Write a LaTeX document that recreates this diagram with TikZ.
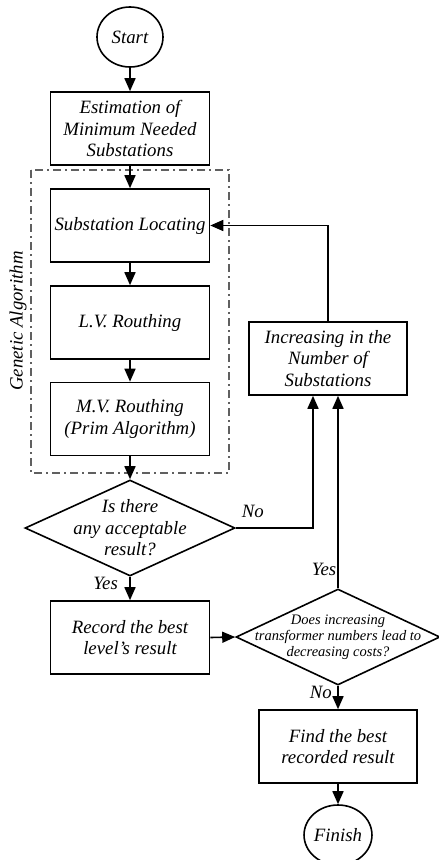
\documentclass[tikz,border=0pt]{standalone}
\usepackage{fontspec}
\setmainfont{Liberation Serif}
\usepackage{tikz}
\usetikzlibrary{arrows.meta,shapes.geometric,positioning}

\tikzset{
	block/.style={draw,rectangle,minimum width=159pt,minimum height=73pt,align=center,inner sep=1pt},
	term/.style={draw,ellipse,minimum width=66pt,minimum height=60pt,inner sep=0pt},
	decision/.style={draw,diamond,inner sep=0pt},
	flow/.style={-{Triangle[length=13pt,width=11pt]}},
	gabox/.style={draw=gray!75!black,line width=1.2pt,dash pattern=on 8pt off 4pt on 2pt off 4pt}
}

\begin{document}
\begin{tikzpicture}[x=1pt,y=-1pt,line width=1.6pt,font=\itshape\fontsize{18.8}{21.5}\selectfont]
	\useasboundingbox (0,0) rectangle (439,860);
	% genetic algorithm frame
	\draw[gabox] (31,170) rectangle (229,473);
	\node[rotate=90] (ga) at (18,321) {Genetic Algorithm};
	% main column
	\node[term] (start) at (130,37) {Start};
	\node[block] (est) at (130,128.5) {Estimation of\\Minimum Needed\\Substations};
	\node[block] (loc) at (130,225.5) {Substation Locating};
	\node[block] (lv) at (130,322.5) {L.V. Routhing};
	\node[block] (mv) at (130,419) {M.V. Routhing\\(Prim Algorithm)};
	\node[decision,minimum width=210pt,minimum height=96pt] (acc) at (130,528) {};
	\node[align=center] (acctxt) at (acc) {Is there\\any acceptable\\result?};
	\node[block] (rec) at (130,637.5) {Record the best\\level's result};
	% right column
	\node[block,minimum width=158pt] (inc) at (328,358.5) {Increasing in the\\Number of\\Substations};
	\node[decision,minimum width=204pt,minimum height=96pt] (dec) at (338,637) {};
	\node[align=center,font=\itshape\fontsize{14.5}{16}\selectfont] (dectxt) at (dec) {Does increasing\\transformer numbers lead to\\decreasing costs?};
	\node[block,minimum width=158pt] (find) at (338,746.5) {Find the best\\recorded result};
	\node[term] (finish) at (338,835) {Finish};

	\draw[flow] (start) -- (est);
	\draw[flow] (est) -- (loc);
	\draw[flow] (loc) -- (lv);
	\draw[flow] (lv) -- (mv);
	\draw[flow] (mv) -- (acc);
	\draw[flow] (acc) -- node[pos=0.28,left=8pt] {Yes} (rec);
	\draw[flow] (acc.east) -| node[pos=0.11,above=6.5pt] {No} ([xshift=-15pt]inc.south);
	\draw[flow] (inc.north) |- (loc.east);
	\draw[flow] (rec.east) -- (dec.west);
	\draw[flow] (dec.north) -- node[pos=0.1,left,inner sep=1pt] {Yes} (dec.north |- inc.south);
	\draw[flow] (dec) -- node[pos=0.3,left=2pt] {No} (find);
	\draw[flow] (find) -- (finish);
\end{tikzpicture}
\end{document}
